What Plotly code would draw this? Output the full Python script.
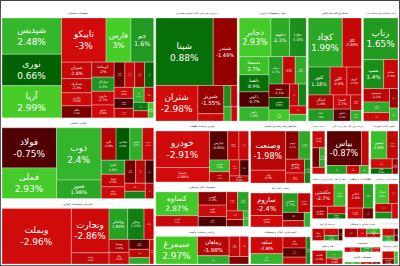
import plotly.graph_objects as go

# ---- sectors (top-level order as drawn) ----
sector_names = [
    "محصولات شیمیایی", "فلزات اساسی", "بانک ها و موسسات اعتباری",
    "فرآورده های نفتی، کک و سوخت هسته ای", "مواد و محصولات دارویی",
    "استخراج کانه های فلزی", "رایانه و فعالیت های وابسته به آن",
    "خودرو و ساخت قطعات", "محصولات کانی غیرفلزی", "زراعت و خدمات وابسته",
    "شرکتهای چند رشته ای صنعتی", "سیمان، آهک و گچ", "انبوه سازی، املاک و مستغلات",
    "لاستیک و پلاستیک", "عرضه برق، گاز، بخار و آب گرم", "ماشین آلات و تجهیزات",
    "حمل و نقل، انبارداری و ارتباطات", "اطلاعات و ارتباطات",
    "محصولات غذایی و آشامیدنی", "سرمایه گذاریها", "قند و شکر", "بیمه و صندوق بازنشستگی",
    "منسوجات", "محصولات کاغذی", "فعالیتهای کمکی به نهادهای مالی", "کاشی و سرامیک",
]

chem_labels = ["شپدیس", "نوری", "آریا", "تاپیکو", "فارس", "جم", "شیران", "شخارک", "زاگرس",
               "شکلر", "کرماشا", "شاراک", "مارون", "شفن", "شغدیر", "خارک", "پترول", "شصدف",
               "شلعاب", "شسینا", "شکربن", "کلر", "شگویا", "شپترو", "شتوکا", "شصفها"]
chem_values = [2250, 1950, 2000, 2050, 1150, 1050, 520, 450, 410, 380, 350, 330, 320, 300,
               280, 260, 260, 240, 220, 200, 190, 170, 150, 130, 110, 90]
chem_changes = [2.48, 0.66, 2.99, -3.0, 3.0, 1.6, -2.6, -2.3, -2.9, -1.2, -2.0, 1.5, -2.7, -2.9,
                -1.0, -2.5, -1.8, 0.7, -2.8, -0.6, -2.1, 2.3, -2.4, 1.0, -2.2, 2.9]

metal_labels = ["فولاد", "فملی", "ذوب", "فخوز", "کاوه", "فخاس", "فباهنر", "فسرب", "فایرا",
                "فنوال", "ارفع", "فجر", "فلوله", "فروی", "فاسمین", "فرآور", "فگستر"]
metal_values = [2365, 1815, 2520, 900, 520, 480, 440, 400, 360, 320, 300, 270, 240, 210, 180, 160, 140]
metal_changes = [-0.75, 2.93, 2.4, 1.98, -1.9, 0.5, 2.2, -2.6, 1.8, -2.4, -2.8, -1.1, -2.2, -0.5,
                 -2.9, 1.2, -2.0]

bank_labels = ["وبملت", "وتجارت", "وبصادر", "وپاسار", "وخاور", "وپست", "وسینا", "وکار",
               "ونوین", "وآیند", "دی", "وشهر"]
bank_values = [4300, 1870, 470, 645, 565, 335, 290, 260, 225, 190, 145, 118]
bank_changes = [-2.96, -2.86, -2.5, 1.83, 1.15, -2.6, -1.9, -2.8, -0.8, -2.2, 2.1, -2.9]

oil_labels = ["شپنا", "شبندر", "شتران", "شبریز", "شاوان", "شسپا", "شراز", "شرانل", "شنفت"]
oil_values = [4080, 1700, 1580, 770, 200, 160, 140, 110, 90]
oil_changes = [0.88, -1.49, -2.98, -1.55, -2.7, 1.4, -2.2, 2.2, -2.8]

pharma_labels = ["دجابر", "دعبید", "دفارا", "دسبحا", "دلقما", "دکوثر", "داوه", "دتماد", "دپارس",
                 "دالبر", "دسینا", "دشیمی", "دفرا", "درازک", "دزهراوی", "دامین", "دکیمی"]
pharma_values = [1300, 760, 680, 570, 540, 480, 440, 400, 360, 320, 290, 270, 240, 210, 180, 150, 120]
pharma_changes = [2.93, 2.1, 1.4, 2.7, 0.9, -0.7, 2.4, 1.7, -2.6, 2.2, -1.1, 0.6, 2.9, -2.3, 1.2,
                  -2.8, 2.5]

mine_labels = ["کچاد", "کگل", "کنور", "کگهر", "کروی", "کمنگنز", "کاما", "کسرا", "کبافق", "کزغال", "کپرور"]
mine_values = [1780, 1000, 650, 500, 430, 380, 320, 260, 220, 180, 120]
mine_changes = [1.99, -2.49, 1.18, -2.6, -2.2, -1.9, 1.6, -2.7, -0.9, -2.4, 2.2]

it_labels = ["رتاپ", "سپ", "مفاخر", "سیستم", "رانفور", "اپرداز", "مداران", "فن آوا"]
it_values = [1560, 640, 450, 380, 300, 240, 180, 120]
it_changes = [1.65, 1.4, -2.5, -2.2, 2.1, -2.8, -1.6, 2.5]

auto_labels = ["خودرو", "خساپا", "خپارس", "ختوقا", "خگستر", "خمحور", "خزامیا", "خکاوه", "خریخت", "خاهن"]
auto_values = [2250, 880, 600, 370, 320, 270, 230, 190, 160, 130]
auto_changes = [-2.91, -2.98, -0.85, -2.4, -2.7, 2.5, -1.9, -2.8, -0.6, -2.2]

nonmet_labels = ["کساوه", "کفپارس", "کچینی", "کلوند", "کاشی", "کسعدی", "کفرا", "کسرام", "کرازی", "کمرجان"]
nonmet_values = [1250, 560, 460, 400, 340, 260, 260, 180, 140, 100]
nonmet_changes = [2.87, -2.6, -1.4, -2.8, -0.7, -2.3, 1.9, -2.9, -1.2, 2.4]

agri_labels = ["سیمرغ", "زماهان", "زکوثر", "زقیام", "زشریف", "زملارد"]
agri_values = [1500, 800, 340, 280, 230, 190]
agri_changes = [2.97, -1.98, 2.2, -2.5, -2.9, -1.3]

multi_labels = ["وصنعت", "واتی", "وتوس", "ومعادن", "وبشهر", "وسپهر", "وکادو"]
multi_values = [1580, 520, 430, 370, 300, 220, 160]
multi_changes = [-1.98, -2.7, -1.4, 2.1, -2.3, -2.9, 1.2]

cement_labels = ["ساروم", "سفارس", "سخزر", "ستران", "سصوفی", "سشرق", "سکرما"]
cement_values = [900, 460, 370, 300, 220, 170, 110]
cement_changes = [-2.4, -2.9, 1.7, -2.2, -0.8, -2.6, 2.3]

build_labels = ["ثشاهد", "ثامان", "ثباغ", "ثنوسا", "ثعمرا", "ثاخت"]
build_values = [720, 440, 340, 280, 210, 150]
build_changes = [-2.8, 2.4, -2.1, -0.9, -2.6, 1.3]

rubber_labels = ["پکرمان", "پتایر", "پاسا", "پدرخش"]
rubber_values = [280, 190, 140, 110]
rubber_changes = [-2.5, -1.2, 2.1, -2.9]

power_labels = ["بپاس", "بمپنا", "بفجر", "بکهنوج", "تابا"]
power_values = [1450, 300, 200, 130, 90]
power_changes = [-0.87, -2.4, 1.7, -2.8, 2.3]

mach_labels = ["تپمپی", "کرمان", "فنر", "تکنو", "خاور"]
mach_values = [560, 380, 250, 150, 106]
mach_changes = [2.6, -2.3, -2.8, 0.8, -1.7]

trans_labels = ["حکشتی", "حتاید", "حفارس", "حپترو", "حسینا"]
trans_values = [620, 330, 240, 175, 110]
trans_changes = [-2.7, 2.6, -1.8, -2.9, 0.9]

info_labels = ["اخابر", "همراه", "های وب", "ثبت"]
info_values = [500, 305, 210, 140]
info_changes = [-2.4, 1.9, -2.8, -1.1]

food_labels = ["غمارگ", "غگل", "غبشهر", "غپینو", "غدشت"]
food_values = [350, 240, 190, 140, 120]
food_changes = [2.8, -2.5, -2.1, 1.4, -2.9]

invest_labels = ["وبانک", "وغدیر", "وامید", "وصندوق"]
invest_values = [260, 180, 130, 90]
invest_changes = [-2.2, -2.9, 1.5, -0.6]

sugar_labels = ["قثابت", "قشکر", "قهکمت"]
sugar_values = [330, 215, 165]
sugar_changes = [-2.3, 2.2, -2.8]

insur_labels = ["البرز", "بپاس ب", "ما", "کوثر"]
insur_values = [235, 175, 145, 105]
insur_changes = [-1.6, -2.7, 2.4, -2.2]

textile_labels = ["نبروج", "نطرین", "نخریس"]
textile_values = [235, 165, 120]
textile_changes = [-2.9, 1.8, -2.4]

paper_labels = ["چکاپا", "چفیبر", "چکارن"]
paper_values = [190, 140, 95]
paper_changes = [2.5, -2.6, -1.3]

fin_labels = ["اتکای", "کارا", "ارزش"]
fin_values = [165, 120, 90]
fin_changes = [-2.8, 2.1, -0.9]

tile_labels = ["کسرا ک", "کپارس", "کتابا"]
tile_values = [165, 120, 90]
tile_changes = [-2.4, -1.5, 2.7]

sector_members = [
    (chem_labels, chem_values, chem_changes),
    (metal_labels, metal_values, metal_changes),
    (bank_labels, bank_values, bank_changes),
    (oil_labels, oil_values, oil_changes),
    (pharma_labels, pharma_values, pharma_changes),
    (mine_labels, mine_values, mine_changes),
    (it_labels, it_values, it_changes),
    (auto_labels, auto_values, auto_changes),
    (nonmet_labels, nonmet_values, nonmet_changes),
    (agri_labels, agri_values, agri_changes),
    (multi_labels, multi_values, multi_changes),
    (cement_labels, cement_values, cement_changes),
    (build_labels, build_values, build_changes),
    (rubber_labels, rubber_values, rubber_changes),
    (power_labels, power_values, power_changes),
    (mach_labels, mach_values, mach_changes),
    (trans_labels, trans_values, trans_changes),
    (info_labels, info_values, info_changes),
    (food_labels, food_values, food_changes),
    (invest_labels, invest_values, invest_changes),
    (sugar_labels, sugar_values, sugar_changes),
    (insur_labels, insur_values, insur_changes),
    (textile_labels, textile_values, textile_changes),
    (paper_labels, paper_values, paper_changes),
    (fin_labels, fin_values, fin_changes),
    (tile_labels, tile_values, tile_changes),
]


def lerp_color(p):
    if p >= 0:
        stops = [(0.0, (0, 70, 0)), (0.7, (0, 100, 0)), (1.5, (30, 150, 30)),
                 (2.5, (55, 185, 45)), (3.0, (70, 205, 40))]
    else:
        p = -p
        stops = [(0.0, (60, 0, 0)), (0.75, (80, 0, 0)), (1.5, (150, 0, 0)),
                 (2.0, (185, 5, 5)), (3.0, (210, 10, 10))]
    p = min(p, stops[-1][0])
    for (a, ca), (b, cb) in zip(stops[:-1], stops[1:]):
        if a <= p <= b:
            t = (p - a) / (b - a) if b > a else 0
            c = [round(ca[i] + (cb[i] - ca[i]) * t) for i in range(3)]
            return "rgb(%d,%d,%d)" % tuple(c)
    return "rgb(%d,%d,%d)" % stops[-1][1]


ids, labels, parents, values, colors, texts, tcolors, tsizes = [], [], [], [], [], [], [], []
for name, (labs, vals, chs) in zip(sector_names, sector_members):
    ids.append(name); labels.append(name); parents.append(""); values.append(0)
    colors.append("white"); texts.append(""); tcolors.append("#222222"); tsizes.append(7)
    for l, v, c in zip(labs, vals, chs):
        ids.append(name + "/" + l); labels.append(l); parents.append(name); values.append(v)
        colors.append(lerp_color(c)); texts.append(f"{c:g}%"); tcolors.append("white")
        tsizes.append(9)

fig = go.Figure(go.Treemap(
    ids=ids, labels=labels, parents=parents, values=values, text=texts,
    branchvalues="remainder", sort=False,
    textinfo="label+text", textposition="middle center",
    textfont=dict(family="DejaVu Sans", size=tsizes, color=tcolors),
    marker=dict(colors=colors, line=dict(width=0.5, color="rgba(255,255,255,0.6)"),
                pad=dict(t=9, l=1, r=1, b=1)),
    tiling=dict(packing="squarify", squarifyratio=2, pad=0),
    pathbar=dict(visible=False),
    hoverinfo="skip",
))
fig.update_layout(width=400, height=266, margin=dict(l=0, r=0, t=0, b=0),
                  paper_bgcolor="white")
fig.write_html("out.html")
